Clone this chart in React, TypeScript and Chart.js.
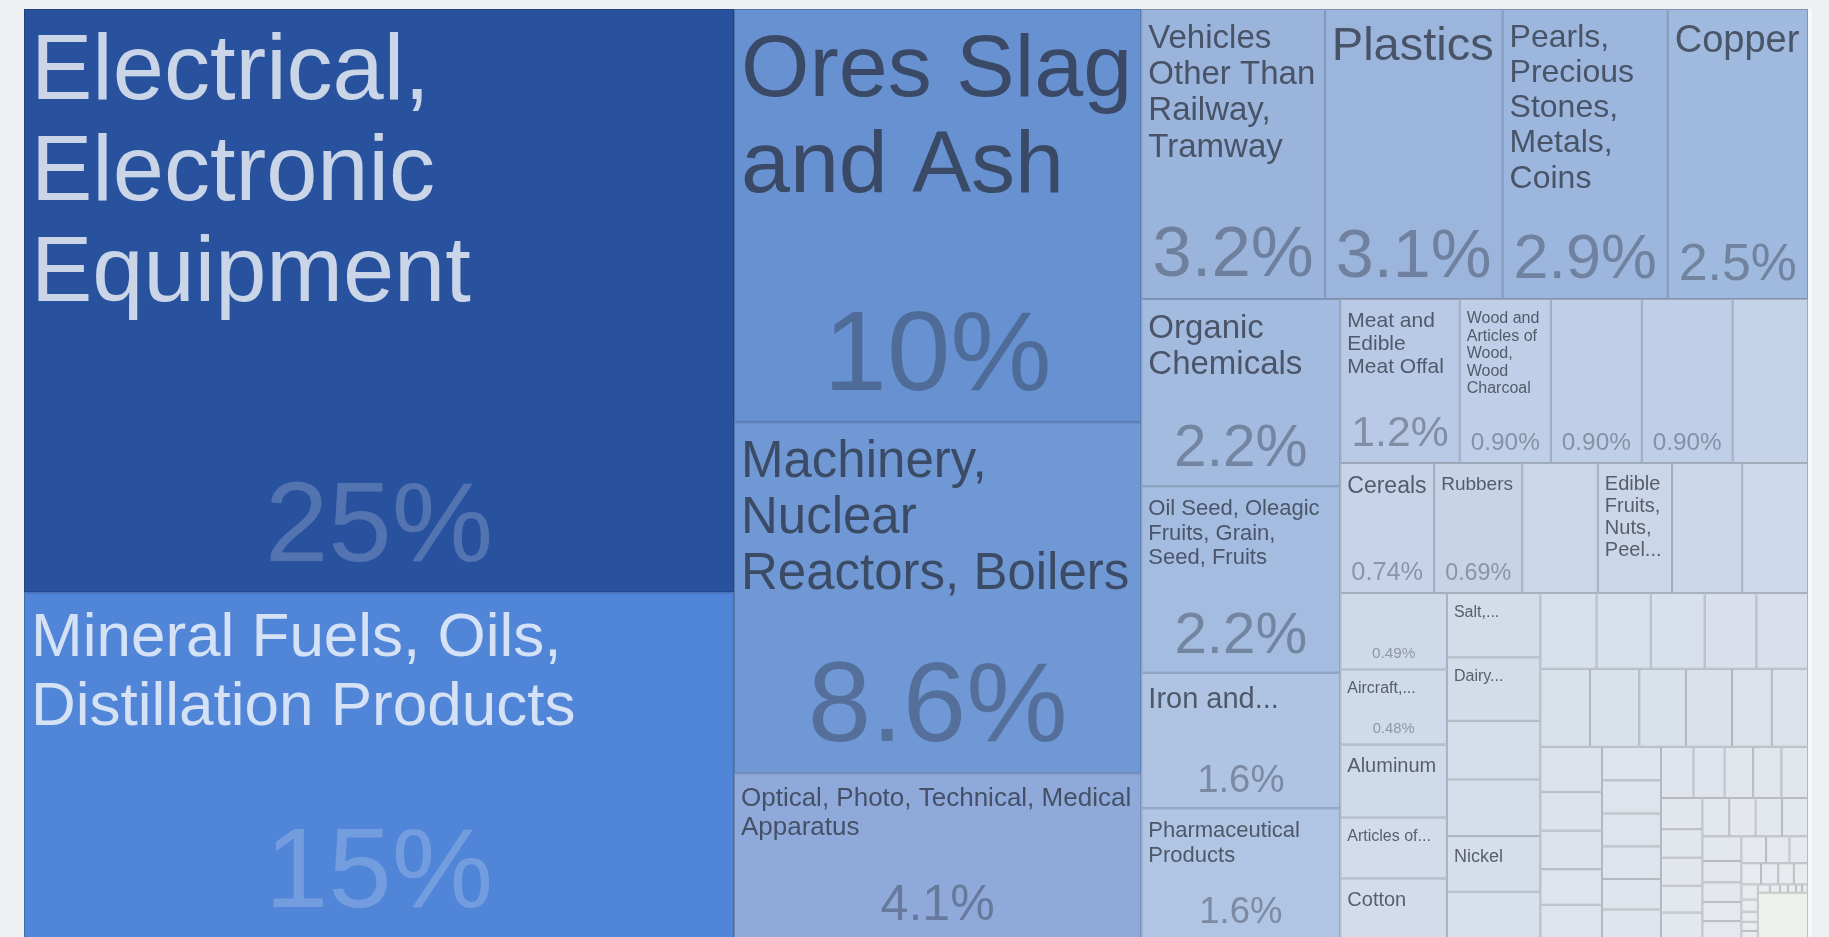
import React, { useEffect, useRef } from "react";
import { Chart, registerables } from "chart.js";

Chart.register(...registerables);

// ---- data: export shares (percent of total), in treemap order ----
const TOP_CATEGORIES: string[] = [
  "Electrical, Electronic Equipment",
  "Mineral Fuels, Oils, Distillation Products",
  "Ores Slag and Ash",
  "Machinery, Nuclear Reactors, Boilers",
  "Optical, Photo, Technical, Medical Apparatus",
  "Vehicles Other Than Railway, Tramway",
  "Plastics",
  "Pearls, Precious Stones, Metals, Coins",
  "Copper",
  "Organic Chemicals",
  "Oil Seed, Oleagic Fruits, Grain, Seed, Fruits",
  "Iron and...",
  "Pharmaceutical Products",
  "Meat and Edible Meat Offal",
  "Wood and Articles of Wood, Wood Charcoal",
  "",
  "",
  "",
  "Cereals",
  "Rubbers",
  "",
  "Edible Fruits, Nuts, Peel...",
  "",
  "",
  "",
  "Aircraft,...",
  "Aluminum",
  "Articles of...",
  "Cotton",
  "Salt,...",
  "Dairy...",
  "",
  "",
  "Nickel",
];

const TOP_SHARES: number[] = [
  24.95, 14.82, 10.14, 8.615, 4.063, 3.205, 3.105, 2.885, 2.45, 2.245, 2.235,
  1.624, 1.567, 1.18, 0.9, 0.899, 0.898, 0.744, 0.735, 0.69, 0.592, 0.581,
  0.55, 0.515, 0.491, 0.482, 0.469, 0.391, 0.389, 0.362, 0.357, 0.33, 0.319,
  0.313,
];

// unlabeled small categories
const SMALL_SHARES: number[] = [
  0.266, 0.256, 0.247, 0.246, 0.236, 0.235, 0.233, 0.232, 0.219, 0.217, 0.187,
  0.17, 0.167, 0.144, 0.143, 0.132, 0.127, 0.119, 0.118, 0.117, 0.116, 0.108,
  0.105, 0.1, 0.096, 0.088, 0.087, 0.082, 0.078, 0.071, 0.07, 0.067, 0.066,
  0.062, 0.061, 0.061, 0.06, 0.058, 0.05, 0.046, 0.045, 0.042, 0.04, 0.038,
  0.03, 0.025, 0.022, 0.02, 0.018, 0.015, 0.012, 0.01, 0.009, 0.008, 0.006,
  0.005, 0.004, 0.004, 0.003, 0.003,
];

// everything too small to draw individually
const REST_SHARE = 0.14;

// ---- styling ----
const MAP_WIDTH = 1784;
const MAP_HEIGHT = 930;
const PAD = 8;
const PAD_X = 7;
const LINE_HEIGHT = 1.1;
const LABEL_FONT_MAX = 92;
const LABEL_FONT_MIN = 8;
const SHARE_FONT_MAX = 114;
const FONT_FAMILY = '"Liberation Sans", Arial, Helvetica, sans-serif';
const REST_COLOR: [number, number, number] = [238, 240, 236];

const COLOR_STOPS: [number, [number, number, number]][] = [
  [0, [234, 236, 240]],
  [0.05, [228, 232, 238]],
  [0.12, [222, 228, 236]],
  [0.25, [216, 224, 235]],
  [0.36, [211, 221, 234]],
  [0.5, [206, 217, 234]],
  [0.75, [197, 211, 232]],
  [0.9, [191, 207, 231]],
  [1.2, [184, 202, 230]],
  [1.6, [175, 196, 227]],
  [2.2, [165, 188, 224]],
  [2.5, [159, 184, 222]],
  [3.2, [155, 180, 220]],
  [4.1, [142, 170, 218]],
  [8.6, [112, 152, 212]],
  [10.1, [104, 145, 210]],
  [15, [80, 133, 216]],
  [25, [41, 82, 158]],
];

function colorFor(v: number): [number, number, number] {
  if (v <= COLOR_STOPS[0][0]) return COLOR_STOPS[0][1];
  for (let i = 0; i < COLOR_STOPS.length - 1; i++) {
    const [a, ca] = COLOR_STOPS[i];
    const [b, cb] = COLOR_STOPS[i + 1];
    if (v >= a && v <= b) {
      const t = (v - a) / (b - a);
      return [0, 1, 2].map((k) => Math.round(ca[k] + (cb[k] - ca[k]) * t)) as [number, number, number];
    }
  }
  return COLOR_STOPS[COLOR_STOPS.length - 1][1];
}

type Rect = { x0: number; y0: number; x1: number; y1: number };

// d3-hierarchy squarify (golden ratio)
function squarify(values: number[], X0: number, Y0: number, X1: number, Y1: number): Rect[] {
  const ratio = (1 + Math.sqrt(5)) / 2;
  const rects: Rect[] = new Array(values.length);
  let x0 = X0, y0 = Y0, x1 = X1, y1 = Y1;
  let value = values.reduce((a, b) => a + b, 0);
  let i0 = 0, i1 = 0;
  const n = values.length;
  while (i0 < n) {
    const dx = x1 - x0, dy = y1 - y0;
    let sumValue = 0;
    do sumValue = values[i1++]; while (!sumValue && i1 < n);
    let minValue = sumValue, maxValue = sumValue;
    const alpha = Math.max(dy / dx, dx / dy) / (value * ratio);
    let beta = sumValue * sumValue * alpha;
    let minRatio = Math.max(maxValue / beta, beta / minValue);
    for (; i1 < n; ++i1) {
      const nodeValue = values[i1];
      sumValue += nodeValue;
      if (nodeValue < minValue) minValue = nodeValue;
      if (nodeValue > maxValue) maxValue = nodeValue;
      beta = sumValue * sumValue * alpha;
      const newRatio = Math.max(maxValue / beta, beta / minValue);
      if (newRatio > minRatio) {
        sumValue -= nodeValue;
        break;
      }
      minRatio = newRatio;
    }
    if (dx < dy) {
      const ny = dy ? y0 + (dy * sumValue) / value : y1;
      const k = (x1 - x0) / sumValue;
      let x = x0;
      for (let i = i0; i < i1; i++) {
        const w = values[i] * k;
        rects[i] = { x0: x, y0: y0, x1: x + w, y1: ny };
        x += w;
      }
      y0 = ny;
    } else {
      const nx = dx ? x0 + (dx * sumValue) / value : x1;
      const k = (y1 - y0) / sumValue;
      let y = y0;
      for (let i = i0; i < i1; i++) {
        const h = values[i] * k;
        rects[i] = { x0: x0, y0: y, x1: nx, y1: y + h };
        y += h;
      }
      x0 = nx;
    }
    value -= sumValue;
    i0 = i1;
  }
  return rects;
}

const fontAt = (fs: number) => `${fs}px ${FONT_FAMILY}`;

function wrapWords(ctx: CanvasRenderingContext2D, words: string[], maxW: number): string[] | null {
  const lines: string[] = [];
  let cur = "";
  for (const w of words) {
    const t = cur ? cur + " " + w : w;
    if (ctx.measureText(t).width <= maxW) cur = t;
    else {
      if (!cur) return null;
      lines.push(cur);
      if (ctx.measureText(w).width > maxW) return null;
      cur = w;
    }
  }
  if (cur) lines.push(cur);
  return lines;
}

function fitLabel(ctx: CanvasRenderingContext2D, text: string, bw: number, bh: number, cap: number) {
  const words = text.split(/\s+/).filter(Boolean);
  if (!words.length || bw <= 4 || bh <= 4) return null;
  ctx.font = fontAt(100);
  const ww = words.map((w) => ctx.measureText(w).width / 100);
  const sumW = ww.reduce((a, b) => a + b, 0);
  const maxW = Math.max(...ww);
  const areaMod = 1.165 + (bw / bh) * 0.1;
  let fs = Math.min(
    LABEL_FONT_MAX,
    cap,
    Math.sqrt((bw * bh) / (sumW * 1.2 * areaMod)),
    bw / maxW,
    bh * 0.8
  );
  fs = Math.floor(fs);
  for (; fs >= LABEL_FONT_MIN; fs--) {
    ctx.font = fontAt(fs);
    const lines = wrapWords(ctx, words, bw);
    if (lines && lines.length * fs * LINE_HEIGHT <= bh) return { fs, lines };
  }
  return null;
}

function formatShare(p: number): string {
  if (p >= 10) return Math.round(p) + "%";
  if (p >= 1) return p.toFixed(1) + "%";
  return p.toFixed(2) + "%";
}

export default function App() {
  const ref = useRef<HTMLCanvasElement>(null);

  useEffect(() => {
    document.body.style.margin = "0";
    document.body.style.background = "#eff0f2";
    document.documentElement.style.overflow = "hidden";

    const names = [...TOP_CATEGORIES, ...SMALL_SHARES.map(() => ""), ""];
    const values = [...TOP_SHARES, ...SMALL_SHARES, REST_SHARE];
    const restIndex = values.length - 1;
    const total = values.reduce((a, b) => a + b, 0);
    const rects = squarify(values, 0, 0, MAP_WIDTH, MAP_HEIGHT);

    const treemapPlugin = {
      id: "treemapCells",
      afterDatasetsDraw(chart: any) {
        const { ctx } = chart;
        const xs = chart.scales.x;
        const ys = chart.scales.y;
        const boxes = rects.map((r) => {
          const px0 = xs.getPixelForValue(r.x0);
          const px1 = xs.getPixelForValue(r.x1);
          const py0 = ys.getPixelForValue(r.y0);
          const py1 = ys.getPixelForValue(r.y1);
          return { x: px0, y: py0, w: px1 - px0, h: py1 - py0 };
        });
        ctx.save();
        // fills & borders
        boxes.forEach((b, i) => {
          const c = i === restIndex ? REST_COLOR : colorFor(values[i]);
          ctx.fillStyle = `rgb(${c[0]},${c[1]},${c[2]})`;
          ctx.fillRect(b.x, b.y, b.w, b.h);
          const f = 0.8;
          ctx.strokeStyle = `rgb(${Math.round(c[0] * f)},${Math.round(c[1] * f)},${Math.round(c[2] * f)})`;
          ctx.lineWidth = 1;
          ctx.strokeRect(b.x + 0.5, b.y + 0.5, Math.max(0, b.w - 1), Math.max(0, b.h - 1));
        });
        // texts
        boxes.forEach((b, i) => {
          if (i === restIndex) return;
          const c = colorFor(values[i]);
          const lum = 0.2126 * c[0] + 0.7152 * c[1] + 0.0722 * c[2];
          const dark = lum < 135;
          const labelColor = dark ? "rgba(255,255,255,0.76)" : "rgba(40,46,58,0.72)";
          const shareColor = dark ? "rgba(255,255,255,0.2)" : "rgba(40,46,58,0.38)";
          const shareText = formatShare((values[i] / total) * 100);
          let showShare = b.w >= 80 && b.h >= 74;
          let shareFs = 0;
          if (showShare) {
            ctx.font = fontAt(100);
            const em = ctx.measureText(shareText).width / 100;
            shareFs = Math.min(SHARE_FONT_MAX, 0.39 * b.h - 14.5, (b.w - 22) / em);
            if (shareFs < 8) showShare = false;
          }
          const name = names[i];
          if (name) {
            const bw = b.w - 2 * PAD_X;
            const bh = b.h - 2 * PAD - (showShare ? shareFs * 1.25 + 2 * PAD : 0);
            const cap = name.endsWith("...") ? Math.max(16, b.h * 0.22) : b.h * 0.34;
            const fit = fitLabel(ctx, name, bw, bh, cap);
            if (fit) {
              ctx.font = fontAt(fit.fs);
              ctx.fillStyle = labelColor;
              ctx.textAlign = "left";
              ctx.textBaseline = "alphabetic";
              fit.lines.forEach((line, li) => {
                ctx.fillText(line, b.x + PAD_X, b.y + 10 + fit.fs * 0.87 + li * fit.fs * LINE_HEIGHT);
              });
            }
          }
          if (showShare) {
            ctx.font = fontAt(shareFs);
            ctx.fillStyle = shareColor;
            ctx.textAlign = "center";
            ctx.textBaseline = "alphabetic";
            ctx.fillText(shareText, b.x + b.w / 2, b.y + b.h - 8 - 0.21 * shareFs);
          }
        });
        ctx.restore();
      },
    };

    const chart = new Chart(ref.current as HTMLCanvasElement, {
      type: "scatter",
      data: {
        datasets: [
          {
            data: rects.map((r) => ({ x: (r.x0 + r.x1) / 2, y: (r.y0 + r.y1) / 2 })),
            pointRadius: 0,
            pointHoverRadius: 0,
          },
        ],
      },
      options: {
        animation: false,
        responsive: false,
        maintainAspectRatio: false,
        layout: { padding: 0 },
        events: [],
        plugins: { legend: { display: false }, tooltip: { enabled: false }, title: { display: false } },
        scales: {
          x: { type: "linear", min: 0, max: MAP_WIDTH, display: false },
          y: { type: "linear", min: 0, max: MAP_HEIGHT, reverse: true, display: false },
        },
      },
      plugins: [treemapPlugin],
    } as any);

    return () => chart.destroy();
  }, []);

  return (
    <div>
      <div style={{ position: "fixed", left: 24, top: 9, width: MAP_WIDTH, height: 928, overflow: "hidden" }}>
        <canvas
          ref={ref}
          width={MAP_WIDTH}
          height={MAP_HEIGHT}
          style={{ display: "block", width: MAP_WIDTH, height: MAP_HEIGHT }}
        />
      </div>
      <div style={{ position: "fixed", left: 24 + MAP_WIDTH, top: 9, width: 4, height: 928, background: "#f7f8f9" }} />
    </div>
  );
}
